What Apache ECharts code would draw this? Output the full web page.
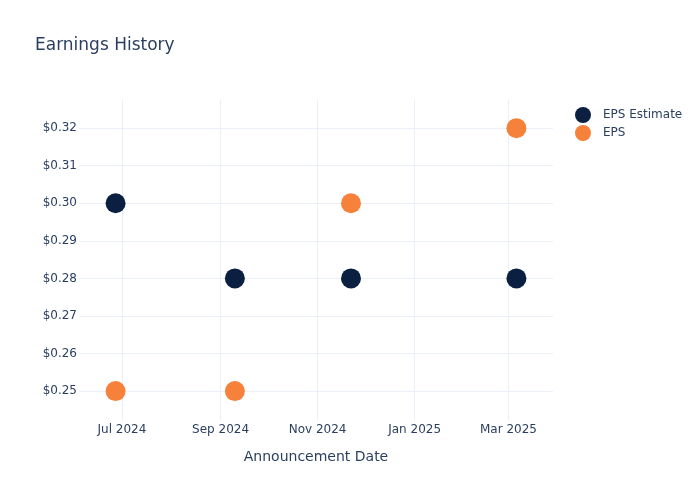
<!DOCTYPE html>
<html>
<head>
<meta charset="utf-8">
<script src="https://cdn.jsdelivr.net/npm/echarts@6/dist/echarts.min.js"></script>
<style>
  html, body { margin: 0; padding: 0; background: #fff; }
  #main { width: 700px; height: 500px; }
</style>
</head>
<body>
<div id="main"></div>
<script>
// announcement dates and values
var dates = ['2024-06-27', '2024-09-10', '2024-11-22', '2025-03-06'];
var epsEstimate = [0.30, 0.28, 0.28, 0.28];
var epsActual = [0.25, 0.25, 0.30, 0.32];
var xTicks = ['2024-07-01', '2024-09-01', '2024-11-01', '2025-01-01', '2025-03-01'];
var yTicks = [0.25, 0.26, 0.27, 0.28, 0.29, 0.30, 0.31, 0.32];
var months = ['Jan', 'Feb', 'Mar', 'Apr', 'May', 'Jun', 'Jul', 'Aug', 'Sep', 'Oct', 'Nov', 'Dec'];

var txt = '#2a3f5f';
var font = 'DejaVu Sans';

function toTime(s) {
	var p = s.split('-');
	return new Date(+p[0], +p[1] - 1, +p[2]).getTime();
}

function pairs(vals) {
	var out = [];
	for (var i = 0; i < dates.length; i++) {
		out.push([toTime(dates[i]), vals[i]]);
	}
	return out;
}

var xTickTimes = xTicks.map(toTime);

var option = {
	backgroundColor: '#fff',
	textStyle: { fontFamily: font },
	title: {
		text: 'Earnings History',
		left: 30,
		top: 32,
		textStyle: { color: txt, fontSize: 17, fontWeight: 'normal', fontFamily: font }
	},
	legend: {
		orient: 'vertical',
		left: 570,
		top: 102,
		icon: 'circle',
		itemWidth: 16,
		itemHeight: 16,
		itemGap: 2,
		textStyle: { color: txt, fontSize: 12, fontFamily: font, padding: [0, 0, 0, 7] },
		data: ['EPS Estimate', 'EPS']
	},
	grid: { left: 79, right: 147, top: 100, bottom: 80, containLabel: false },
	xAxis: {
		// value axis holding timestamps, so the month ticks can be given exactly
		type: 'value',
		min: toTime('2024-06-04'),
		max: toTime('2025-03-29'),
		scale: true,
		name: 'Announcement Date',
		nameLocation: 'middle',
		nameGap: 30,
		nameTextStyle: { color: txt, fontSize: 14, fontFamily: font },
		axisLine: { show: false },
		axisTick: { show: false, customValues: xTickTimes },
		axisLabel: {
			customValues: xTickTimes,
			color: txt,
			fontSize: 12,
			margin: 4,
			formatter: function (v) {
				var d = new Date(v);
				return months[d.getMonth()] + ' ' + d.getFullYear();
			}
		},
		splitLine: { show: true, lineStyle: { color: '#ebf0f8', width: 1 } }
	},
	yAxis: {
		type: 'value',
		min: 0.2423,
		max: 0.3275,
		axisLine: { show: false },
		axisTick: { show: false, customValues: yTicks },
		axisLabel: {
			customValues: yTicks,
			color: txt,
			fontSize: 12,
			margin: 2,
			formatter: function (v) { return '$' + v.toFixed(2); }
		},
		splitLine: { show: true, lineStyle: { color: '#ebf0f8', width: 1 } }
	},
	series: [
		{
			name: 'EPS Estimate',
			type: 'scatter',
			symbolSize: 20,
			itemStyle: { color: '#0b1f40', opacity: 1 },
			data: pairs(epsEstimate)
		},
		{
			name: 'EPS',
			type: 'scatter',
			symbolSize: 20,
			itemStyle: { color: '#f5813a', opacity: 1 },
			data: pairs(epsActual)
		}
	]
};

var chart = echarts.init(document.getElementById('main'));
chart.setOption(option);
</script>
</body>
</html>
